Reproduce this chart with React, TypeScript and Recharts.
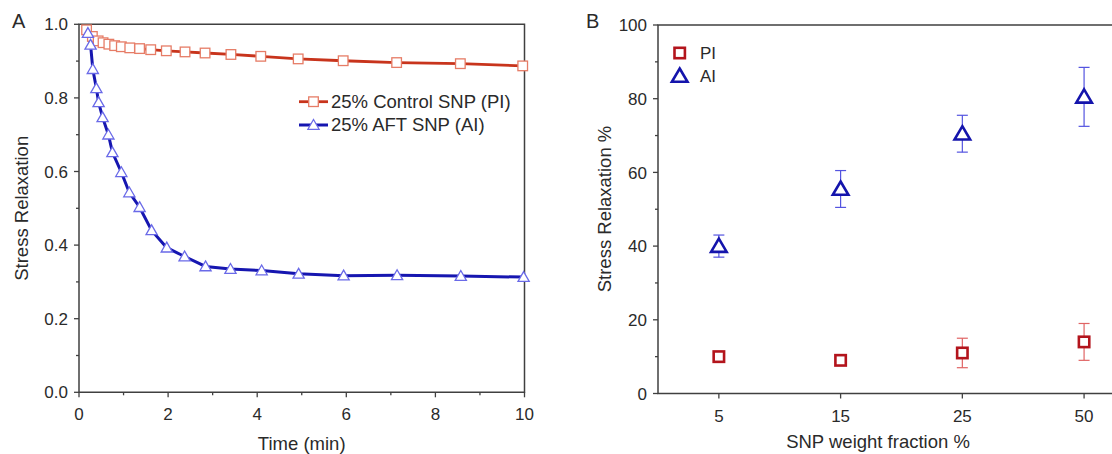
import React from 'react';
import { ComposedChart, Line, Scatter, XAxis, YAxis, ReferenceArea, ErrorBar } from 'recharts';

const FONT = "'Liberation Sans', Arial, Helvetica, sans-serif";
const AXIS = '#404040';
const TXT = '#2a2a2a';

// ---------- Panel A data ----------
const piTime = [0.17, 0.3, 0.43, 0.54, 0.67, 0.8, 0.95, 1.14, 1.36, 1.61, 1.96, 2.38, 2.83, 3.41, 4.08, 4.92, 5.93, 7.13, 8.56, 9.96];
const piRelax = [0.985, 0.967, 0.955, 0.95, 0.946, 0.942, 0.939, 0.936, 0.934, 0.931, 0.928, 0.925, 0.922, 0.918, 0.913, 0.906, 0.901, 0.896, 0.893, 0.887];
const aiTime = [0.2, 0.26, 0.31, 0.39, 0.44, 0.53, 0.66, 0.75, 0.95, 1.13, 1.36, 1.63, 1.97, 2.37, 2.84, 3.4, 4.1, 4.93, 5.94, 7.14, 8.57, 9.98];
const aiRelax = [0.976, 0.944, 0.878, 0.826, 0.788, 0.747, 0.7, 0.652, 0.598, 0.543, 0.503, 0.44, 0.393, 0.369, 0.342, 0.335, 0.331, 0.322, 0.317, 0.318, 0.316, 0.313];

const timeTicks = [0, 1, 2, 3, 4, 5, 6, 7, 8, 9, 10];
const timeMajor = [0, 2, 4, 6, 8, 10];
const relaxTicks = [0, 0.1, 0.2, 0.3, 0.4, 0.5, 0.6, 0.7, 0.8, 0.9, 1.0];
const relaxMajor = [0, 0.2, 0.4, 0.6, 0.8, 1.0];

// ---------- Panel B data ----------
const fractionLabels = ['5', '15', '25', '50'];
const fractionIdx = [0, 1, 2, 3];
const piPercent = [10, 9, 11, 14];
const piPercentErr = [0.5, 0.5, 4, 5];
const aiPercent = [40, 55.5, 70.5, 80.5];
const aiPercentErr = [3, 5, 5, 8];
const pctTicks = [0, 10, 20, 30, 40, 50, 60, 70, 80, 90, 100];
const pctMajor = [0, 20, 40, 60, 80, 100];

const piData = piTime.map((t, i) => ({ t, v: piRelax[i] }));
const aiData = aiTime.map((t, i) => ({ t, v: aiRelax[i] }));
const piB = fractionIdx.map((idx, i) => ({ idx, v: piPercent[i], err: piPercentErr[i] }));
const aiB = fractionIdx.map((idx, i) => ({ idx, v: aiPercent[i], err: aiPercentErr[i] }));

const isIn = (arr: number[], v: number) => arr.some((m) => Math.abs(m - v) < 1e-9);

function makeTick(side: 'left' | 'right' | 'bottom', majors: number[], fmt: ((v: number) => string) | null) {
  return (props: any) => {
    const { x, y, payload } = props;
    const v = payload.value;
    const major = isIn(majors, v);
    const len = major ? 5 : 3;
    const textStyle = { fontFamily: FONT, fontSize: 17, fill: TXT };
    if (side === 'left') {
      return (
        <g>
          <line x1={x} x2={x - len} y1={y} y2={y} stroke={AXIS} strokeWidth={1.3} />
          {major && fmt && (
            <text x={x - 11} y={y} dy="0.36em" textAnchor="end" style={textStyle}>
              {fmt(v)}
            </text>
          )}
        </g>
      );
    }
    if (side === 'right') {
      return <line x1={x} x2={x - len} y1={y} y2={y} stroke={AXIS} strokeWidth={1.3} />;
    }
    return (
      <g>
        <line x1={x} x2={x} y1={y} y2={y + len} stroke={AXIS} strokeWidth={1.3} />
        {major && fmt && (
          <text x={x} y={y + 28} textAnchor="middle" style={textStyle}>
            {fmt(v)}
          </text>
        )}
      </g>
    );
  };
}

const SquareDot = (p: any) => (
  <rect key={`sq-${p.index}`} x={p.cx - 4.8} y={p.cy - 4.8} width={9.6} height={9.6} fill="#fff" stroke="#e67c66" strokeWidth={1.3} />
);
const TriDot = (p: any) => (
  <path key={`tr-${p.index}`} d={`M${p.cx},${p.cy - 5.5} L${p.cx + 5.6},${p.cy + 4.3} L${p.cx - 5.6},${p.cy + 4.3} Z`} fill="#fff" stroke="#6a6ae8" strokeWidth={1.3} />
);

const BigSquare = (p: any) => (
  <rect x={p.cx - 5.2} y={p.cy - 5.2} width={10.4} height={10.4} fill="#fff" stroke="#b3141c" strokeWidth={2.6} />
);
const BigTri = (p: any) => (
  <path d={`M${p.cx},${p.cy - 7.5} L${p.cx + 7.8},${p.cy + 5.8} L${p.cx - 7.8},${p.cy + 5.8} Z`} fill="#fff" stroke="#1414ac" strokeWidth={2.6} strokeLinejoin="miter" />
);

export default function App() {
  return (
    <div style={{ position: 'absolute', left: 0, top: 0, width: 1112, height: 454, overflow: 'hidden', background: '#fff' }}>
      {/* Panel A */}
      <div style={{ position: 'absolute', left: 0, top: 0 }}>
        <ComposedChart width={560} height={454} margin={{ top: 24.3, right: 15.5, bottom: 1.7, left: 19 }}>
          <XAxis
            dataKey="t"
            type="number"
            domain={[0, 10]}
            ticks={timeTicks}
            interval={0}
            height={60}
            tickSize={0}
            tickMargin={0}
            axisLine={false}
            tickLine={false}
            tick={makeTick('bottom', timeMajor, (v) => String(v))}
            allowDuplicatedCategory={false}
          />
          <YAxis
            type="number"
            domain={[0, 1]}
            ticks={relaxTicks}
            interval={0}
            width={60}
            tickSize={0}
            tickMargin={0}
            axisLine={false}
            tickLine={false}
            tick={makeTick('left', relaxMajor, (v) => v.toFixed(1))}
          />
          <YAxis
            yAxisId="r"
            orientation="right"
            type="number"
            domain={[0, 1]}
            ticks={relaxTicks}
            interval={0}
            width={20}
            tickSize={0}
            tickMargin={0}
            axisLine={false}
            tickLine={false}
            tick={makeTick('right', relaxMajor, null)}
          />
          <ReferenceArea x1={0} x2={10} y1={0} y2={1} fill="none" stroke={AXIS} strokeWidth={1.5} fillOpacity={0} />
          <Line data={piData} dataKey="v" type="linear" stroke="#c8341c" strokeWidth={2.8} dot={SquareDot} activeDot={false} isAnimationActive={false} />
          <Line data={aiData} dataKey="v" type="linear" stroke="#1616b0" strokeWidth={3} dot={TriDot} activeDot={false} isAnimationActive={false} />
        </ComposedChart>
      </div>

      {/* Panel B */}
      <div style={{ position: 'absolute', left: 560, top: 0 }}>
        <ComposedChart width={580} height={454} margin={{ top: 25, right: 5, bottom: 0.5, left: 38 }}>
          <XAxis
            dataKey="idx"
            type="number"
            domain={[-0.5, 3.254]}
            ticks={fractionIdx}
            interval={0}
            height={60}
            tickSize={0}
            tickMargin={0}
            axisLine={false}
            tickLine={false}
            tick={makeTick('bottom', fractionIdx, (v) => fractionLabels[v])}
          />
          <YAxis
            type="number"
            domain={[0, 100]}
            ticks={pctTicks}
            interval={0}
            width={60}
            tickSize={0}
            tickMargin={0}
            axisLine={false}
            tickLine={false}
            tick={makeTick('left', pctMajor, (v) => String(v))}
          />
          <YAxis
            yAxisId="r"
            orientation="right"
            type="number"
            domain={[0, 100]}
            ticks={pctTicks}
            interval={0}
            width={20}
            tickSize={0}
            tickMargin={0}
            axisLine={false}
            tickLine={false}
            tick={makeTick('right', pctMajor, null)}
          />
          <ReferenceArea x1={-0.5} x2={3.254} y1={0} y2={100} fill="none" stroke={AXIS} strokeWidth={1.5} fillOpacity={0} />
          <Scatter data={piB} dataKey="v" shape={BigSquare} isAnimationActive={false}>
            <ErrorBar dataKey="err" direction="y" width={5.5} stroke="#e06464" strokeWidth={1.2} />
          </Scatter>
          <Scatter data={aiB} dataKey="v" shape={BigTri} isAnimationActive={false}>
            <ErrorBar dataKey="err" direction="y" width={5.5} stroke="#5454e0" strokeWidth={1.2} />
          </Scatter>
        </ComposedChart>
      </div>

      {/* Titles, axis titles and legends */}
      <svg width={1112} height={454} style={{ position: 'absolute', left: 0, top: 0, pointerEvents: 'none' }}>
        <g style={{ fontFamily: FONT, fill: TXT }}>
          <text x={12} y={28} fontSize={20}>A</text>
          <text x={586} y={28} fontSize={20}>B</text>
          <text x={301.7} y={450} fontSize={18.5} textAnchor="middle">Time (min)</text>
          <text transform="translate(28,208.3) rotate(-90)" fontSize={18.5} textAnchor="middle">Stress Relaxation</text>
          <text x={878} y={448} fontSize={18.5} textAnchor="middle">SNP weight fraction %</text>
          <text transform="translate(611,209) rotate(-90)" fontSize={18.5} textAnchor="middle">Stress Relaxation %</text>

          {/* Legend A */}
          <line x1={299} x2={328} y1={101.7} y2={101.7} stroke="#c8341c" strokeWidth={2.8} />
          <rect x={308.7} y={96.9} width={9.6} height={9.6} fill="#fff" stroke="#e67c66" strokeWidth={1.3} />
          <text x={331} y={108} fontSize={18.5}>25% Control SNP (PI)</text>
          <line x1={299} x2={328} y1={125} y2={125} stroke="#1616b0" strokeWidth={3} />
          <path d="M313.5,119.5 L319.1,129.3 L307.9,129.3 Z" fill="#fff" stroke="#6a6ae8" strokeWidth={1.3} />
          <text x={331} y={131.3} fontSize={18.5}>25% AFT SNP (AI)</text>

          {/* Legend B */}
          <rect x={674.5} y={47.8} width={10.4} height={10.4} fill="#fff" stroke="#b3141c" strokeWidth={2.6} />
          <text x={700} y={59} fontSize={17}>PI</text>
          <path d="M679.7,68.5 L687.5,81.8 L671.9,81.8 Z" fill="#fff" stroke="#1414ac" strokeWidth={2.6} />
          <text x={700} y={82} fontSize={17}>AI</text>
        </g>
      </svg>
    </div>
  );
}
